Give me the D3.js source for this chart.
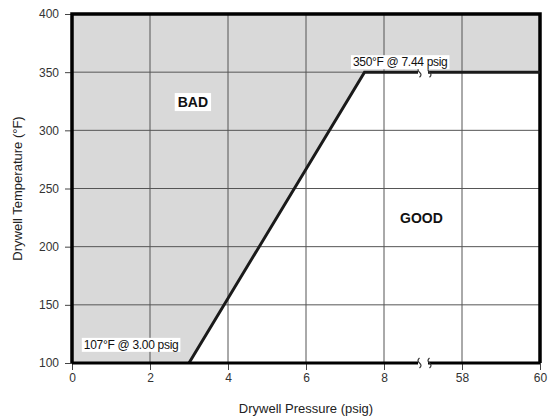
<!DOCTYPE html>
<html>
<head>
<meta charset="utf-8">
<script src="https://cdn.jsdelivr.net/npm/d3@7"></script>
<style>
  body { margin: 0; background: #fff; }
  text { font-family: "Liberation Sans", Arial, sans-serif; }
</style>
</head>
<body>
<script>
// chart values
var xTicks = [0, 2, 4, 6, 8, 58, 60];
var yTicks = [100, 150, 200, 250, 300, 350, 400];
var limitLine = [[3.0, 100], [7.5, 350], [60, 350]];
var badRegion = [[0, 100], [3.0, 100], [7.5, 350], [60, 350], [60, 400], [0, 400]];
var bottomLine = [[0, 100], [60, 100]];
var breakAt = 33; // psig, where the axis is cut between 8 and 58
var notes = [
  { text: "350°F @ 7.44 psig", x: 7.1, y: 350 },
  { text: "107°F @ 3.00 psig", x: 0.2, y: 107 }
];

var width = 549, height = 419;
var margin = { top: 14, right: 9, bottom: 56, left: 72 };
var w = width - margin.left - margin.right,
    h = height - margin.top - margin.bottom;

var svg = d3.select('body').append('svg')
  .attr('width', width)
  .attr('height', height);

var g = svg.append('g').attr('transform', 'translate(' + margin.left + ',' + margin.top + ')');

// broken x axis: 0-8 then 58-60, ticks evenly spaced
var x = d3.scaleLinear()
  .domain([0, 8, 58, 60])
  .range([0, w * 4 / 6, w * 5 / 6, w]);
var y = d3.scaleLinear().domain([100, 400]).range([h, 0]);

var line = d3.line().x(function(d) { return x(d[0]); }).y(function(d) { return y(d[1]); });

// gray "bad" zone
g.append('path')
  .datum(badRegion)
  .attr('d', line)
  .attr('fill', '#d9d9d9');

// grid
g.selectAll('.vgrid').data(xTicks).enter().append('line')
  .attr('x1', function(d) { return x(d); }).attr('x2', function(d) { return x(d); })
  .attr('y1', 0).attr('y2', h)
  .attr('stroke', '#555').attr('stroke-width', 1);
g.selectAll('.hgrid').data(yTicks).enter().append('line')
  .attr('x1', 0).attr('x2', w)
  .attr('y1', function(d) { return y(d); }).attr('y2', function(d) { return y(d); })
  .attr('stroke', '#555').attr('stroke-width', 1);

// axes
var xAxis = g.append('g')
  .attr('transform', 'translate(0,' + h + ')')
  .call(d3.axisBottom(x).tickValues(xTicks).tickSize(7).tickPadding(3).tickFormat(d3.format('d')));
var yAxis = g.append('g')
  .call(d3.axisLeft(y).tickValues(yTicks).tickSize(7).tickPadding(6).tickFormat(d3.format('d')));
[xAxis, yAxis].forEach(function(a) {
  a.select('.domain').remove();
  a.selectAll('line').attr('stroke', '#444');
  a.selectAll('text').attr('font-size', 12).attr('fill', '#333')
    .attr('font-family', '"Liberation Sans", Arial, sans-serif');
});

// frame: thick left, top, right
g.append('path')
  .attr('d', 'M0,' + h + 'V0H' + w + 'V' + h)
  .attr('fill', 'none').attr('stroke', '#000').attr('stroke-width', 3.5);

// limit curve and bottom line
g.append('path').datum(limitLine).attr('d', line)
  .attr('fill', 'none').attr('stroke', '#1a1a1a').attr('stroke-width', 3);
g.append('path').datum(bottomLine).attr('d', line)
  .attr('fill', 'none').attr('stroke', '#000').attr('stroke-width', 3);

// axis break marks on both horizontal lines
[350, 100].forEach(function(v) {
  var bx = x(breakAt), by = y(v);
  g.append('rect').attr('x', bx - 5).attr('y', by - 3).attr('width', 10).attr('height', 6)
    .attr('fill', '#fff');
  [-5, 5].forEach(function(dx) {
    g.append('path')
      .attr('d', 'M' + (bx + dx + 1.5) + ',' + (by - 5) + 'q-3,2.5 0,5 q3,2.5 0,5')
      .attr('fill', 'none').attr('stroke', '#333').attr('stroke-width', 1.2);
  });
});

// point notes with white boxes
notes.forEach(function(n) {
  var t = g.append('text')
    .attr('x', x(n.x) + 4).attr('y', y(n.y) - 6)
    .attr('font-size', 12).attr('letter-spacing', -0.3)
    .attr('fill', '#111')
    .text(n.text);
  var b = t.node().getBBox();
  g.insert('rect', function() { return t.node(); })
    .attr('x', b.x - 2).attr('y', b.y).attr('width', b.width + 4).attr('height', b.height)
    .attr('fill', '#fff');
});

// zone labels
var bad = g.append('text')
  .attr('x', x(3.1)).attr('y', y(320))
  .attr('text-anchor', 'middle')
  .attr('font-size', 14).attr('font-weight', 'bold').attr('fill', '#111')
  .text('BAD');
var bb = bad.node().getBBox();
g.insert('rect', function() { return bad.node(); })
  .attr('x', bb.x - 3).attr('y', bb.y - 1).attr('width', bb.width + 6).attr('height', bb.height + 2)
  .attr('fill', '#fff');
g.append('text')
  .attr('x', x(32)).attr('y', y(220))
  .attr('text-anchor', 'middle')
  .attr('font-size', 14).attr('font-weight', 'bold').attr('fill', '#111')
  .text('GOOD');

// axis titles
svg.append('text')
  .attr('x', margin.left + w / 2).attr('y', 413)
  .attr('text-anchor', 'middle').attr('font-size', 13).attr('fill', '#222')
  .text('Drywell Pressure (psig)');
svg.append('text')
  .attr('transform', 'translate(22,' + (margin.top + h / 2) + ') rotate(-90)')
  .attr('text-anchor', 'middle').attr('font-size', 13).attr('fill', '#222')
  .text('Drywell Temperature (°F)');
</script>
</body>
</html>
